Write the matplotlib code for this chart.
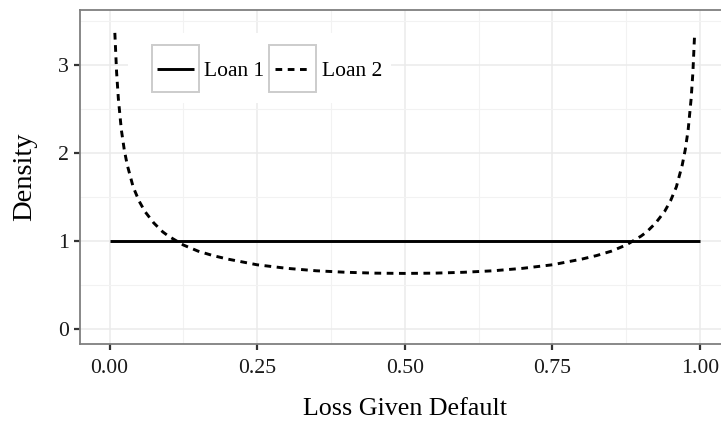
import numpy as np
import matplotlib
matplotlib.use("Agg")
import matplotlib.pyplot as plt
from matplotlib.patches import Rectangle
from matplotlib.lines import Line2D
from matplotlib.ticker import MultipleLocator

plt.rcParams['font.family'] = ['Liberation Serif', 'DejaVu Serif']

# Loan 1: flat density over [0, 1]
loan1_x = [0.0, 1.0]
loan1_y = [1.0, 1.0]

# Loan 2: U-shaped density, piled up at both ends
loan2_left_x = [0.009, 0.012, 0.015, 0.02, 0.025, 0.03, 0.04, 0.05, 0.06, 0.075,
                0.09, 0.1, 0.125, 0.15, 0.175, 0.2, 0.25, 0.3, 0.35, 0.4, 0.45]
loan2_left_y = [3.37, 2.92, 2.62, 2.27, 2.04, 1.87, 1.62, 1.46, 1.34, 1.21,
                1.11, 1.06, 0.96, 0.89, 0.84, 0.80, 0.735, 0.695, 0.667, 0.65, 0.64]
loan2_mid_x = [0.5]
loan2_mid_y = [0.637]
loan2_x = loan2_left_x + loan2_mid_x + [round(1 - v, 3) for v in loan2_left_x[::-1]]
loan2_y = loan2_left_y + loan2_mid_y + loan2_left_y[::-1]

legend_labels = ["Loan 1", "Loan 2"]
x_ticks = [0.0, 0.25, 0.5, 0.75, 1.0]
x_ticklabels = ["0.00", "0.25", "0.50", "0.75", "1.00"]
y_ticks = [0, 1, 2, 3]

LW = 2.1
DASH = (2.3, 1.9)

W, H = 721, 421
fig = plt.figure(figsize=(W / 100, H / 100), dpi=100)
fig.patch.set_facecolor('white')

# panel in pixel terms: left 80, right ~729 (runs off the edge), top 10, bottom 344
ax = fig.add_axes([80 / W, (H - 344) / H, (729.5 - 80) / W, (344 - 10) / H])

ax.plot(loan1_x, loan1_y, color='black', lw=LW, solid_capstyle='butt', zorder=3)
ax.plot(loan2_x, loan2_y, color='black', lw=LW, dashes=DASH, zorder=3)

ax.set_xlim(-0.05, 1.05)
ax.set_ylim(-0.165, 3.63)
ax.set_xticks(x_ticks)
ax.set_xticklabels(x_ticklabels)
ax.set_yticks(y_ticks)
ax.xaxis.set_minor_locator(MultipleLocator(0.125))
ax.yaxis.set_minor_locator(MultipleLocator(0.5))

ax.grid(which='major', color='#ebebeb', lw=1.1)
ax.grid(which='minor', color='#f2f2f2', lw=0.8)
ax.set_axisbelow(True)

for s in ax.spines.values():
    s.set_color('#7f7f7f')
    s.set_linewidth(1.3)

ax.tick_params(which='major', length=4, width=1.6, color='#333333',
               labelsize=15.7, labelcolor='#1a1a1a', pad=4)
ax.tick_params(axis='x', which='major', pad=7)
ax.tick_params(which='minor', length=0)

ax.set_xlabel("Loss Given Default", fontsize=18.7, labelpad=14)
ax.set_ylabel("Density", fontsize=20.5, labelpad=15)


def px(x, y):
    return x / W, 1 - y / H


# legend drawn by hand so each key gets its own grey box
bx, by = px(128, 103)
fig.add_artist(Rectangle((bx, by), (391 - 128) / W, (103 - 33) / H,
                         transform=fig.transFigure, facecolor='white',
                         edgecolor='none', zorder=4))
key_lefts = [151.7, 269]
text_lefts = [204, 322]
styles = [dict(solid_capstyle='butt'), dict(dashes=DASH)]
for kl, tl, lab, st in zip(key_lefts, text_lefts, legend_labels, styles):
    rx, ry = px(kl, 92)
    fig.add_artist(Rectangle((rx, ry), 47.3 / W, 47 / H, transform=fig.transFigure,
                             facecolor='white', edgecolor='#cccccc', lw=1.4, zorder=5))
    x0, yc = px(kl + 5.5, 68.5)
    x1, _ = px(kl + 42, 68.5)
    fig.add_artist(Line2D([x0, x1], [yc, yc], transform=fig.transFigure,
                          color='black', lw=LW, zorder=6, **st))
    tx, ty = px(tl, 68.5)
    fig.text(tx, ty, lab, fontsize=15.5, ha='left', va='center_baseline',
             color='black', zorder=7)

fig.savefig("out.png", dpi=100)
